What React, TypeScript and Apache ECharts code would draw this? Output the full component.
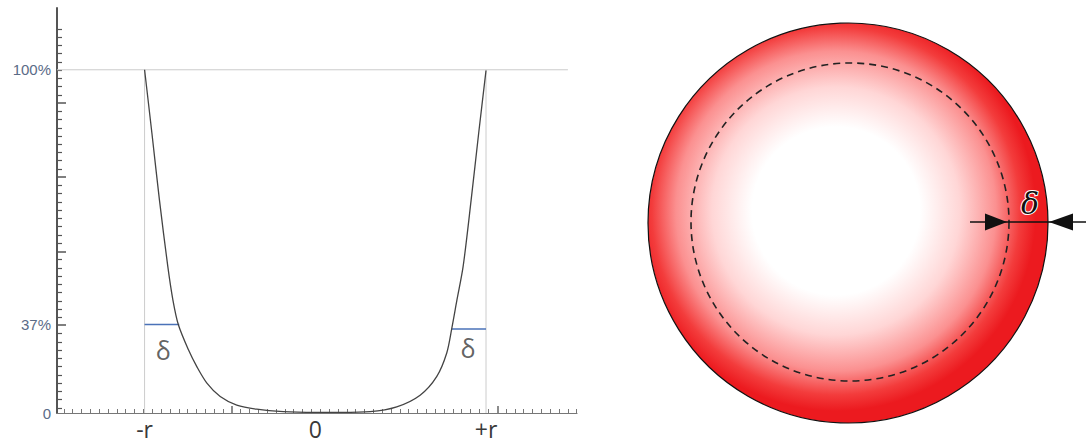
import React, { useEffect, useRef } from "react";
import * as echarts from "echarts";

// Curve (normalised x: -r = -1, +r = +1; y: fraction of 100% level)
const curveX = [-1.0, -0.957, -0.913, -0.864, -0.834, -0.802, -0.743, -0.694, -0.635, -0.557, -0.46, -0.343, -0.187, 0.0, 0.15, 0.321, 0.477, 0.614, 0.711, 0.77, 0.799, 0.83, 0.866, 0.913, 0.957, 1.0];
const curveY = [1.0, 0.815, 0.621, 0.427, 0.329, 0.257, 0.184, 0.135, 0.087, 0.048, 0.023, 0.011, 0.004, 0.002, 0.002, 0.004, 0.018, 0.052, 0.106, 0.175, 0.245, 0.33, 0.427, 0.621, 0.815, 0.998];

// 37% marker segments
const leftMarkX = [-1.0, -0.797];
const leftMarkY = 0.258;
const rightMarkX = [0.799, 1.0];
const rightMarkY = 0.245;

// delta labels
const deltaLabels = [
  [-0.891, 0.184],
  [0.895, 0.19],
];

// axis ranges
const xMin = -1.513;
const xMax = 1.533;
const yMin = 0;
const yMax = 1.18;
const hLineEnd = 1.48;

// tick labels
const xLabelValues = [-1, 0, 1];
const xLabelTexts = ["-r", "0", "+r"];
const yLabelValues = [0, 0.257, 1];
const yLabelTexts = ["0", "37%", "100%"];

// tick positions
const xMajorTicks = [-0.489, 1.066];
const xMinorStep = 0.0518;
const yMajorTicks = [0.903, 0.687, 0.471, 0.257];
const yMinorStep = 0.024;

const xMinorTicks: number[] = [];
for (let k = -19; k <= 39; k++) {
  if (k === 0 || k === 30) continue;
  const v = +(xMajorTicks[0] + k * xMinorStep).toFixed(4);
  if (v > xMin && v <= xMax) xMinorTicks.push(v);
}
const yMinorTicks: number[] = [];
for (let k = -37; k <= 9; k++) {
  if (k === 0 || k === -9 || k === -18 || k === -27) continue;
  const v = +(yMajorTicks[0] + k * yMinorStep).toFixed(4);
  if (v > yMin && v < yMax) yMinorTicks.push(v);
}

function pick(values: number[], texts: string[], v: number) {
  let best = 0;
  for (let i = 1; i < values.length; i++) {
    if (Math.abs(values[i] - v) < Math.abs(values[best] - v)) best = i;
  }
  return texts[best];
}

export default function App() {
  const ref = useRef<HTMLDivElement>(null);
  useEffect(() => {
    if (!ref.current) return;
    const chart = echarts.init(ref.current, undefined, { renderer: "svg" });
    const gridColor = "#cccccc";
    chart.setOption({
      animation: false,
      backgroundColor: "#ffffff",
      grid: { left: 57, right: 1086 - 577, top: 8, bottom: 30, outerBoundsMode: "none", containLabel: false },
      xAxis: [
        {
          type: "value",
          min: xMin,
          max: xMax,
          axisLine: { show: true, onZero: false, lineStyle: { color: "#777", width: 1.2 } },
          axisTick: { show: true, inside: true, length: 7, customValues: xMajorTicks, lineStyle: { color: "#666", width: 1.5 } },
          axisLabel: {
            show: true,
            customValues: xLabelValues,
            formatter: (v: number) => pick(xLabelValues, xLabelTexts, v),
            fontSize: 23,
            fontFamily: "Open Sans, DejaVu Sans, sans-serif",
            color: "#3a3a3a",
            margin: 4,
          },
          splitLine: { show: false },
        },
        {
          type: "value",
          min: xMin,
          max: xMax,
          position: "bottom",
          axisLine: { show: false, onZero: false },
          axisTick: { show: true, inside: true, length: 4, customValues: xMinorTicks, lineStyle: { color: "#777", width: 1 } },
          axisLabel: { show: false },
          splitLine: { show: false },
        },
      ],
      yAxis: [
        {
          type: "value",
          min: yMin,
          max: yMax,
          axisLine: { show: true, onZero: false, lineStyle: { color: "#555", width: 2 } },
          axisTick: { show: true, inside: true, length: 9, customValues: yMajorTicks, lineStyle: { color: "#555", width: 1.5 } },
          axisLabel: {
            show: true,
            customValues: yLabelValues,
            formatter: (v: number) => pick(yLabelValues, yLabelTexts, v),
            fontSize: 15,
            fontFamily: "Liberation Sans, Arial, sans-serif",
            color: "#5a6b87",
            margin: 6,
          },
          splitLine: { show: false },
        },
        {
          type: "value",
          min: yMin,
          max: yMax,
          position: "left",
          offset: 0,
          axisLine: { show: false, onZero: false },
          axisTick: { show: true, inside: true, length: 5, customValues: yMinorTicks, lineStyle: { color: "#555", width: 1.2 } },
          axisLabel: { show: false },
          splitLine: { show: false },
        },
      ],
      series: [
        {
          type: "line",
          data: [[xMin, 1], [hLineEnd, 1]],
          showSymbol: false,
          silent: true,
          lineStyle: { color: gridColor, width: 1 },
          z: 1,
        },
        {
          type: "line",
          data: [[-1, 0], [-1, 1]],
          showSymbol: false,
          silent: true,
          lineStyle: { color: gridColor, width: 1 },
          z: 1,
        },
        {
          type: "line",
          data: [[1, 0], [1, 1]],
          showSymbol: false,
          silent: true,
          lineStyle: { color: gridColor, width: 1 },
          z: 1,
        },
        {
          type: "line",
          data: leftMarkX.map((x) => [x, leftMarkY]),
          showSymbol: false,
          lineStyle: { color: "#4a72b8", width: 1.5 },
          z: 2,
        },
        {
          type: "line",
          data: rightMarkX.map((x) => [x, rightMarkY]),
          showSymbol: false,
          lineStyle: { color: "#4a72b8", width: 1.5 },
          z: 2,
        },
        {
          type: "line",
          data: curveX.map((x, i) => [x, curveY[i]]),
          smooth: 0.3,
          showSymbol: false,
          lineStyle: { color: "#444", width: 1.3 },
          z: 3,
        },
        {
          type: "scatter",
          data: deltaLabels,
          symbolSize: 0,
          label: {
            show: true,
            position: "inside",
            formatter: "δ",
            fontSize: 25,
            fontFamily: "Open Sans, DejaVu Sans, sans-serif",
            color: "#3a3a3a",
          },
          z: 4,
        },
      ],
      graphic: [
        {
          type: "circle",
          shape: { cx: 848, cy: 223, r: 200 },
          style: {
            fill: new echarts.graphic.RadialGradient(0.47, 0.47, 0.5, [
              { offset: 0, color: "#ffffff" },
              { offset: 0.42, color: "#ffffff" },
              { offset: 0.62, color: "#ffd6d6" },
              { offset: 0.8, color: "#fb9090" },
              { offset: 0.92, color: "#f33c3c" },
              { offset: 1, color: "#ec1a1f" },
            ]),
            stroke: "#111",
            lineWidth: 1.2,
          },
          z: 1,
        },
        {
          type: "circle",
          shape: { cx: 850, cy: 222, r: 159 },
          style: { fill: "none", stroke: "#222", lineWidth: 1.6, lineDash: [7, 5] },
          z: 2,
        },
        {
          type: "line",
          shape: { x1: 970, y1: 222, x2: 1086, y2: 222 },
          style: { stroke: "#111", lineWidth: 1.6 },
          z: 3,
        },
        {
          type: "polygon",
          shape: { points: [[985, 213.5], [1007, 222], [985, 230.5]] },
          style: { fill: "#111" },
          z: 3,
        },
        {
          type: "polygon",
          shape: { points: [[1073, 213.5], [1049, 222], [1073, 230.5]] },
          style: { fill: "#111" },
          z: 3,
        },
        {
          type: "text",
          x: 1030,
          y: 203,
          style: {
            text: "δ",
            font: "italic 30px 'DejaVu Serif', serif",
            fill: "#111",
            stroke: "#ffffff",
            lineWidth: 2,
            align: "center",
            verticalAlign: "middle",
          },
          z: 4,
        },
      ],
    });
    return () => chart.dispose();
  }, []);
  return (
    <div
      ref={ref}
      style={{ position: "fixed", left: 0, top: 0, width: 1086, height: 443, background: "#fff" }}
    />
  );
}
